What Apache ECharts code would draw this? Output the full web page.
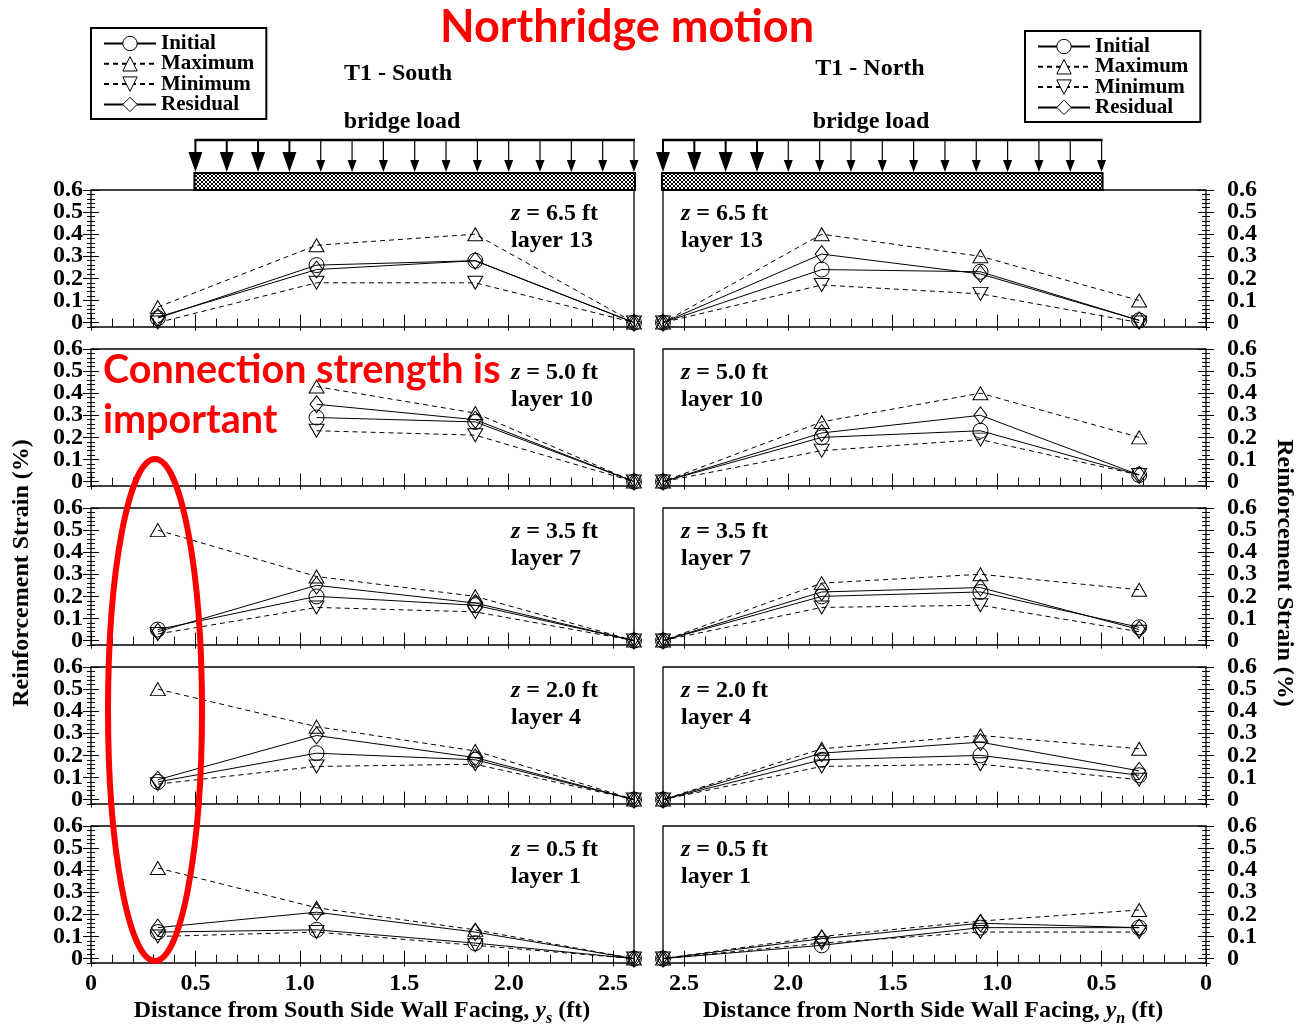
<!DOCTYPE html>
<html><head><meta charset="utf-8">
<script src="https://cdn.jsdelivr.net/npm/echarts@6/dist/echarts.min.js"></script>
<style>html,body{margin:0;padding:0;background:#fff}#c{width:1298px;height:1030px}</style>
</head><body><div id="c"></div>
<script>
// ---------- data ----------
const positions = [0.32, 1.08, 1.84, 2.6];           // measured distance (ft)
const depthLabels = ['6.5', '5.0', '3.5', '2.0', '0.5'];
const layerLabels = ['13', '10', '7', '4', '1'];
const seriesNames = ['Initial', 'Maximum', 'Minimum', 'Residual'];
const xTickValues = [0, 0.5, 1.0, 1.5, 2.0, 2.5];
const yTickValues = [0, 0.1, 0.2, 0.3, 0.4, 0.5, 0.6];

// rows: z = 6.5, 5.0, 3.5, 2.0, 0.5 ; columns follow positions
const southInitial  = [[0.02, 0.26, 0.28, 0], [null, 0.29, 0.27, 0], [0.05, 0.20, 0.16, 0], [0.08, 0.21, 0.18, 0], [0.12, 0.13, 0.07, 0]];
const southMaximum  = [[0.07, 0.35, 0.40, 0], [null, 0.43, 0.31, 0], [0.50, 0.29, 0.20, 0], [0.50, 0.33, 0.22, 0], [0.41, 0.23, 0.13, 0]];
const southMinimum  = [[0.00, 0.18, 0.18, 0], [null, 0.23, 0.21, 0], [0.03, 0.15, 0.13, 0], [0.07, 0.15, 0.16, 0], [0.10, 0.12, 0.06, 0]];
const southResidual = [[0.025, 0.24, 0.28, 0], [null, 0.35, 0.28, 0], [0.04, 0.25, 0.17, 0], [0.09, 0.29, 0.19, 0], [0.14, 0.21, 0.12, 0]];
const northInitial  = [[0.01, 0.23, 0.24, 0], [0.03, 0.23, 0.20, 0], [0.06, 0.22, 0.20, 0], [0.11, 0.20, 0.18, 0], [0.14, 0.14, 0.06, 0]];
const northMaximum  = [[0.10, 0.30, 0.40, 0], [0.20, 0.40, 0.27, 0], [0.23, 0.30, 0.26, 0], [0.23, 0.29, 0.23, 0], [0.22, 0.17, 0.10, 0]];
const northMinimum  = [[0.00, 0.13, 0.17, 0], [0.03, 0.19, 0.14, 0], [0.04, 0.16, 0.15, 0], [0.09, 0.16, 0.15, 0], [0.12, 0.12, 0.07, 0]];
const northResidual = [[0.01, 0.22, 0.31, 0], [0.03, 0.30, 0.22, 0], [0.05, 0.24, 0.22, 0], [0.13, 0.26, 0.21, 0], [0.14, 0.16, 0.09, 0]];

// ---------- layout ----------
const SERIF = 'Liberation Serif';
const gridLefts = [91, 663];
const gridWidth = 543;
const gridTops = [190, 349, 508, 667, 826];
const gridHeight = 137;
const X_MIN = 0, X_MAX = 2.6, Y_MIN = -0.02, Y_MAX = 0.6;

const xMinor = [], yMinor = [];
for (let i = 1; i <= 26; i++) { if (i % 5 !== 0) xMinor.push(+(i * 0.1).toFixed(2)); }
for (let i = -1; i <= 30; i++) { if (i % 5 !== 0) yMinor.push(+(i * 0.02).toFixed(3)); }
const yLabelsEven = yTickValues.filter((v, i) => i % 2 === 0);
const yLabelsOdd = yTickValues.filter((v, i) => i % 2 === 1);

const labelFont = { fontFamily: SERIF, fontWeight: 'bold', fontSize: 24, color: '#000' };
const fmt = v => (Math.abs(v) < 1e-9 ? '0' : v.toFixed(1));

const grids = [], xAxes = [], yAxes = [], series = [];
const dataSets = [
  [southInitial, southMaximum, southMinimum, southResidual],
  [northInitial, northMaximum, northMinimum, northResidual]
];
const symbols = [
  { symbol: 'circle', symbolSize: 15, rotate: 0, dashed: false },
  { symbol: 'triangle', symbolSize: [15, 13], rotate: 0, dashed: true },
  { symbol: 'triangle', symbolSize: [15, 13], rotate: 180, dashed: true },
  { symbol: 'diamond', symbolSize: [13, 17], rotate: 0, dashed: false }
];
const X_PER = 4, Y_PER = 6;

for (let r = 0; r < 5; r++) {
  for (let c = 0; c < 2; c++) {
    const g = r * 2 + c;
    grids.push({ left: gridLefts[c], top: gridTops[r], width: gridWidth, height: gridHeight,
      show: true, borderColor: '#000', borderWidth: 1.3, backgroundColor: 'transparent' });
    const xBase = { gridIndex: g, type: 'value', min: X_MIN, max: X_MAX, inverse: c === 1,
      axisLine: { show: false }, splitLine: { show: false } };
    const yBase = { gridIndex: g, type: 'value', min: Y_MIN, max: Y_MAX,
      axisLine: { show: false }, splitLine: { show: false } };
    const tick = (vals, len) => ({ show: true, inside: true, length: len, customValues: vals, lineStyle: { color: '#000', width: 1 } });
    // x: bottom major, bottom minor, top major, top minor
    xAxes.push(Object.assign({}, xBase, { position: 'bottom', axisTick: tick(xTickValues, 8),
      axisLabel: Object.assign({ show: r === 4, customValues: xTickValues, formatter: fmt, margin: 9,
        showMinLabel: true, showMaxLabel: true, hideOverlap: false }, labelFont) }));
    xAxes.push(Object.assign({}, xBase, { position: 'bottom', axisTick: tick(xMinor, 4), axisLabel: { show: false } }));
    xAxes.push(Object.assign({}, xBase, { position: 'top', axisTick: tick(xTickValues, 8), axisLabel: { show: false } }));
    xAxes.push(Object.assign({}, xBase, { position: 'top', axisTick: tick(xMinor, 4), axisLabel: { show: false } }));
    // y: left major(+even labels), left minor, right major(+even labels), right minor, left odd labels, right odd labels
    const yLab = (vals, show, margin) => Object.assign({ show, customValues: vals, formatter: fmt, margin,
      showMinLabel: true, showMaxLabel: true, hideOverlap: false }, labelFont);
    yAxes.push(Object.assign({}, yBase, { position: 'left', axisTick: tick(yTickValues, 8), axisLabel: yLab(yLabelsEven, c === 0, 8) }));
    yAxes.push(Object.assign({}, yBase, { position: 'left', axisTick: tick(yMinor, 4), axisLabel: { show: false } }));
    yAxes.push(Object.assign({}, yBase, { position: 'right', axisTick: tick(yTickValues, 8), axisLabel: yLab(yLabelsEven, c === 1, 21) }));
    yAxes.push(Object.assign({}, yBase, { position: 'right', axisTick: tick(yMinor, 4), axisLabel: { show: false } }));
    yAxes.push(Object.assign({}, yBase, { position: 'left', axisTick: { show: false }, axisLabel: yLab(yLabelsOdd, c === 0, 8) }));
    yAxes.push(Object.assign({}, yBase, { position: 'right', axisTick: { show: false }, axisLabel: yLab(yLabelsOdd, c === 1, 21) }));

    for (let s = 0; s < 4; s++) {
      const vals = dataSets[c][s][r];
      const data = [];
      positions.forEach((x, i) => { if (vals[i] !== null) data.push([x, vals[i]]); });
      const sy = symbols[s];
      series.push({
        type: 'line', name: seriesNames[s], xAxisIndex: g * X_PER, yAxisIndex: g * Y_PER, data,
        symbol: sy.symbol, symbolSize: sy.symbolSize, symbolRotate: sy.rotate, showAllSymbol: true,
        lineStyle: { color: '#000', width: 1, type: sy.dashed ? [5, 4] : 'solid' },
        itemStyle: { color: 'transparent', borderColor: '#000', borderWidth: 1 },
        emphasis: { disabled: true }, silent: true, animation: false, z: 3
      });
    }
  }
}

const legendBase = {
  data: seriesNames, orient: 'vertical', itemWidth: 52, itemHeight: 18, itemGap: -0.7,
  padding: [5, 12, 4, 12], borderColor: '#000', borderWidth: 2, selectedMode: false,
  itemStyle: { color: '#fff', borderColor: '#000', borderWidth: 1 },
  textStyle: { fontFamily: SERIF, fontWeight: 'bold', fontSize: 21, color: '#000' }
};

const chart = echarts.init(document.getElementById('c'), null, { renderer: 'canvas' });
chart.setOption({
  animation: false,
  backgroundColor: '#fff',
  grid: grids, xAxis: xAxes, yAxis: yAxes, series,
  legend: [
    Object.assign({}, legendBase, { left: 91, top: 28 }),
    Object.assign({}, legendBase, { left: 1025, top: 31 })
  ]
});

// ---------- annotations ----------
const hatch = document.createElement('canvas');
hatch.width = 4; hatch.height = 4;
const hc = hatch.getContext('2d');
hc.fillStyle = '#fff'; hc.fillRect(0, 0, 4, 4);
hc.fillStyle = '#000';
[[0, 0], [1, 1], [2, 2], [3, 3], [3, 0], [2, 1], [1, 2], [0, 3]].forEach(p => hc.fillRect(p[0], p[1], 1, 1));

const graphics = [];
const TXT = 24;
function txt(text, x, y, extra) {
  graphics.push({ type: 'text', x, y, z: 50, silent: true,
    style: Object.assign({ text, fill: '#000', align: 'center', verticalAlign: 'middle',
      fontFamily: SERIF, fontWeight: 'bold', fontSize: TXT }, extra || {}) });
}

// bridge loads (positions along each top panel's axis)
const loadStart = 0.5, loadStep = 0.15, loadCount = 15;
[0, 1].forEach(c => {
  const axisIdx = c * X_PER; // grid c (top row) bottom-major x axis
  const xs = [];
  for (let k = 0; k < loadCount; k++) {
    const v = c === 0 ? loadStart + k * loadStep : X_MAX - k * loadStep;
    xs.push(chart.convertToPixel({ xAxisIndex: axisIdx }, v));
  }
  const xa = Math.min.apply(null, xs), xb = Math.max.apply(null, xs);
  graphics.push({ type: 'line', silent: true, z: 40, shape: { x1: xa - 1, y1: 140, x2: xb + 1, y2: 140 },
    style: { stroke: '#000', lineWidth: 2.5 } });
  graphics.push({ type: 'rect', silent: true, z: 40, shape: { x: xa - 1, y: 173, width: xb - xa + 2, height: 17 },
    style: { fill: { image: hatch, repeat: 'repeat' }, stroke: '#000', lineWidth: 2 } });
  const sorted = xs.slice().sort((a, b) => a - b);
  sorted.forEach((x, k) => {
    const bold = k < 4;
    const hw = bold ? 7 : 4.5, top = bold ? 152 : 160;
    graphics.push({ type: 'line', silent: true, z: 40, shape: { x1: x, y1: 140, x2: x, y2: top + 2 },
      style: { stroke: '#000', lineWidth: bold ? 2 : 1.2 } });
    graphics.push({ type: 'polygon', silent: true, z: 40, shape: { points: [[x - hw, top], [x + hw, top], [x, 172]] },
      style: { fill: '#000' } });
  });
});

txt('T1 - South', 398, 74);
txt('T1 - North', 870, 69);
txt('bridge load', 402, 122);
txt('bridge load', 871, 122);

// z / layer labels
for (let r = 0; r < 5; r++) {
  for (let c = 0; c < 2; c++) {
    const x = c === 0 ? gridLefts[0] + 420 : gridLefts[1] + 18;
    const y = gridTops[r] + 24;
    graphics.push({ type: 'text', x, y, z: 50, silent: true,
      style: { text: '{i|z} = ' + depthLabels[r] + ' ft', align: 'left', verticalAlign: 'middle',
        fontFamily: SERIF, fontWeight: 'bold', fontSize: TXT, fill: '#000',
        rich: { i: { fontFamily: SERIF, fontWeight: 'bold', fontStyle: 'italic', fontSize: TXT, fill: '#000' } } } });
    graphics.push({ type: 'text', x, y: y + 27, z: 50, silent: true,
      style: { text: 'layer ' + layerLabels[r], align: 'left', verticalAlign: 'middle',
        fontFamily: SERIF, fontWeight: 'bold', fontSize: TXT, fill: '#000' } });
  }
}

// axis titles
graphics.push({ type: 'text', x: 22, y: 573, rotation: Math.PI / 2, z: 50, silent: true,
  style: { text: 'Reinforcement Strain (%)', align: 'center', verticalAlign: 'middle',
    fontFamily: SERIF, fontWeight: 'bold', fontSize: TXT, fill: '#000' } });
graphics.push({ type: 'text', x: 1284, y: 573, rotation: -Math.PI / 2, z: 50, silent: true,
  style: { text: 'Reinforcement Strain (%)', align: 'center', verticalAlign: 'middle',
    fontFamily: SERIF, fontWeight: 'bold', fontSize: TXT, fill: '#000' } });
function xTitle(main, sub, x) {
  graphics.push({ type: 'text', x, y: 1011, z: 50, silent: true,
    style: { text: '{a|' + main + '}{i|y}{s|' + sub + '}{a| (ft)}', align: 'center', verticalAlign: 'middle',
      rich: {
        a: { fontFamily: SERIF, fontWeight: 'bold', fontSize: TXT, fill: '#000' },
        i: { fontFamily: SERIF, fontWeight: 'bold', fontStyle: 'italic', fontSize: TXT, fill: '#000' },
        s: { fontFamily: SERIF, fontWeight: 'bold', fontStyle: 'italic', fontSize: 16, fill: '#000', padding: [16, 0, 0, 0] }
      } } });
}
xTitle('Distance from South Side Wall Facing, ', 's', 362);
xTitle('Distance from North Side Wall Facing, ', 'n', 933);

// red callouts
graphics.push({ type: 'text', x: 627, y: 27, z: 60, silent: true,
  style: { text: 'Northridge motion', align: 'center', verticalAlign: 'middle',
    fontFamily: 'Lato', fontWeight: 'bold', fontSize: 45, fill: '#ff0000' } });
graphics.push({ type: 'text', x: 103, y: 370, z: 60, silent: true,
  style: { text: 'Connection strength is', align: 'left', verticalAlign: 'middle',
    fontFamily: 'Lato', fontWeight: 'bold', fontSize: 39.5, fill: '#ff0000' } });
graphics.push({ type: 'text', x: 103, y: 420, z: 60, silent: true,
  style: { text: 'important', align: 'left', verticalAlign: 'middle',
    fontFamily: 'Lato', fontWeight: 'bold', fontSize: 39.5, fill: '#ff0000' } });
graphics.push({ type: 'ellipse', z: 60, silent: true, shape: { cx: 155, cy: 710, rx: 47, ry: 251 },
  style: { fill: 'none', stroke: '#ff0000', lineWidth: 6 } });

chart.setOption({ graphic: { elements: graphics } });
</script>
</body></html>
